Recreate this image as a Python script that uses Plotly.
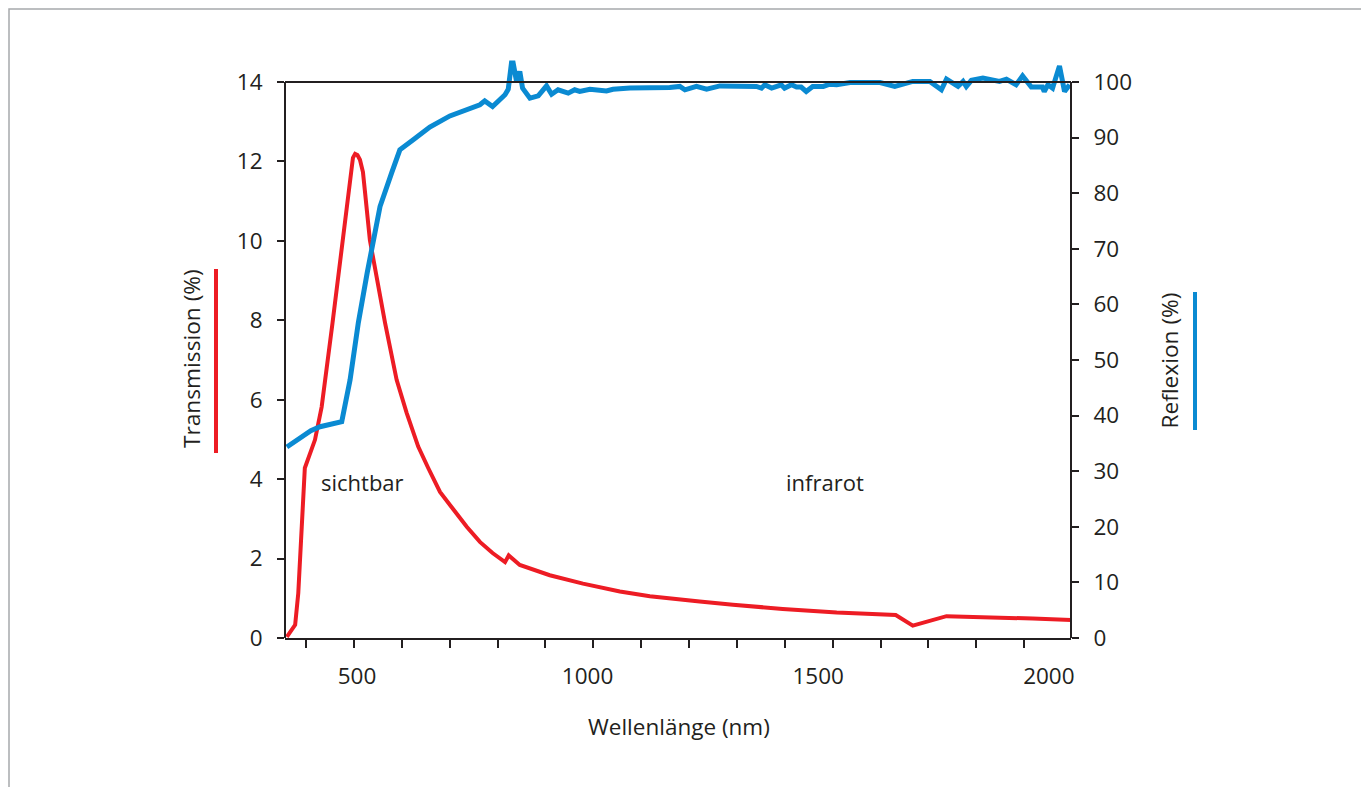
import plotly.graph_objects as go

# Transmission (%) - left axis
trans_nm = [348, 366, 372.8, 380.2, 387, 409, 423.5, 447, 469, 485, 491.3, 496, 501, 506.5, 513, 517, 528, 561,
            586, 607.7, 632.8, 654.5, 680, 705, 738, 766.5, 794, 821, 829, 853, 918, 990, 1030, 1070, 1135,
            1193, 1243, 1315, 1423, 1540, 1668, 1705, 1778, 1965, 2049]
trans_val = [0.03, 0.33, 1.13, 2.72, 4.28, 4.99, 5.82, 7.93, 10.02, 11.66, 12.09, 12.19, 12.16, 12.04, 11.73, 11.28,
             10.02, 7.93, 6.50, 5.67, 4.82, 4.28, 3.68, 3.30, 2.80, 2.42, 2.14, 1.91, 2.08, 1.84, 1.58, 1.37, 1.27,
             1.17, 1.05, 0.97, 0.92, 0.84, 0.73, 0.64, 0.58, 0.31, 0.55, 0.49, 0.45]

# Reflexion (%) - right axis
refl_nm = [348, 383, 400, 420, 445, 467, 485, 503, 522, 535, 550, 575, 593, 622, 658, 701.5, 745, 766.5, 777, 794,
           821, 828, 835, 838.6, 846, 853, 859, 875, 893, 911, 922, 936, 958, 972, 983, 1005, 1041, 1055, 1092,
           1128, 1178, 1200, 1211, 1236, 1258, 1287, 1366, 1377, 1384, 1399, 1420, 1427, 1442, 1453, 1463, 1474,
           1488, 1511, 1525, 1540, 1569, 1634, 1666, 1705, 1742, 1767, 1778, 1803, 1814, 1821, 1832, 1857, 1893,
           1908, 1929, 1943, 1962, 1986, 1990, 1998, 2008, 2023, 2034, 2045]
refl_val = [34.35, 36.5, 37.3, 38.0, 38.5, 38.9, 46.4, 56.7, 65.6, 71.6, 77.6, 83.6, 87.8, 89.6, 91.9, 93.9, 95.3,
            95.9, 96.6, 95.6, 97.7, 98.7, 103.4, 103.4, 100.1, 101.9, 98.9, 97.1, 97.5, 99.3, 97.8, 98.6, 98.0,
            98.6, 98.3, 98.7, 98.4, 98.7, 98.9, 98.9, 99.0, 99.2, 98.6, 99.2, 98.7, 99.3, 99.2, 98.9, 99.5, 98.9,
            99.5, 98.9, 99.5, 99.1, 99.1, 98.3, 99.2, 99.2, 99.6, 99.5, 99.9, 99.9, 99.2, 100.1, 100.1, 98.6,
            100.5, 99.2, 100.1, 99.2, 100.3, 100.7, 100.1, 100.5, 99.5, 101.1, 99.1, 99.1, 98.3, 99.5, 98.9,
            102.9, 98.3, 99.5]

x_ticks = [500, 1000, 1500, 2000]
y_left_ticks = [0, 2, 4, 6, 8, 10, 12, 14]
y_right_ticks = [0, 10, 20, 30, 40, 50, 60, 70, 80, 90, 100]

RED = "#ed1c24"
BLUE = "#0a8ad2"
INK = "#231f20"
FONT = "Open Sans"

# plot area: 584 px tall, the axis frame (0..14) uses the lower 556 px,
# leaving headroom so the reflexion spikes above 100 % are not clipped
PLOT_H = 584.0
HEAD = PLOT_H / 556.0

fig = go.Figure()
fig.add_trace(go.Scatter(x=trans_nm, y=trans_val, mode="lines", line=dict(color=RED, width=4),
                         yaxis="y", showlegend=False))
fig.add_trace(go.Scatter(x=refl_nm, y=refl_val, mode="lines", line=dict(color=BLUE, width=5),
                         yaxis="y2", showlegend=False))

fig.update_layout(
    width=1361, height=779,
    margin=dict(l=277, r=298, t=46, b=149, pad=0),
    paper_bgcolor="white", plot_bgcolor="white",
    font=dict(family=FONT, size=22.5, color=INK),
    xaxis=dict(range=[344, 2048], tickmode="array", tickvals=x_ticks, ticks="",
               showline=True, linecolor=INK, linewidth=2, mirror=False, showgrid=False, zeroline=False,
               ticklabelstandoff=17,
               minor=dict(ticks="outside", ticklen=8, tickwidth=2, tickcolor=INK,
                          tickmode="linear", tick0=389.5, dtick=103.8, showgrid=False)),
    yaxis=dict(range=[0, 14 * HEAD], tickmode="array", tickvals=y_left_ticks, ticks="outside", ticklen=7,
               tickwidth=2, tickcolor=INK, showline=False,
               showgrid=False, zeroline=False, ticklabelstandoff=10),
    yaxis2=dict(range=[0, 100 * HEAD], tickmode="array", tickvals=y_right_ticks, ticks="outside", ticklen=7,
                tickwidth=2, tickcolor=INK, showline=False,
                overlaying="y", side="right", anchor="x", showgrid=False, zeroline=False,
                ticklabelstandoff=10),
)

# axis frame lines ending at the top tick (14 / 100)
fig.add_shape(type="line", xref="paper", yref="y", x0=0, x1=0, y0=0, y1=14, line=dict(color=INK, width=2))
fig.add_shape(type="line", xref="paper", yref="y", x0=1, x1=1, y0=0, y1=14, line=dict(color=INK, width=2))
fig.add_shape(type="line", xref="paper", yref="y", x0=0, x1=1, y0=14, y1=14, line=dict(color=INK, width=2))


# helpers: page pixel -> paper fraction (plot area spans page x 285..1071, bottom at page y 638)
def px_x(p):
    return (p - 285) / 786.0


def px_y(p):
    return (638 - p) / PLOT_H


annotations = [
    dict(text="Transmission (%)", x=px_x(191), y=px_y(359), textangle=-90, size=22.7),
    dict(text="Reflexion (%)", x=px_x(1169.5), y=px_y(361), textangle=-90, size=22.7),
    dict(text="Wellenlänge (nm)", x=px_x(679), y=px_y(726), textangle=0, size=22.5),
    dict(text="sichtbar", x=px_x(362.7), y=px_y(481.5), textangle=0, size=22),
    dict(text="infrarot", x=px_x(825), y=px_y(481.5), textangle=0, size=22),
]
for a in annotations:
    fig.add_annotation(text=a["text"], x=a["x"], y=a["y"], xref="paper", yref="paper",
                       xanchor="center", yanchor="middle", showarrow=False, textangle=a["textangle"],
                       font=dict(family=FONT, size=a["size"], color=INK))

# colour key bars beside the axis titles
fig.add_shape(type="line", xref="paper", yref="paper", x0=px_x(216), x1=px_x(216),
              y0=px_y(269), y1=px_y(453), line=dict(color=RED, width=4))
fig.add_shape(type="line", xref="paper", yref="paper", x0=px_x(1195), x1=px_x(1195),
              y0=px_y(292), y1=px_y(430), line=dict(color=BLUE, width=4))
# outer frame
fig.add_shape(type="rect", xref="paper", yref="paper", x0=px_x(9), x1=px_x(1364),
              y0=px_y(800), y1=px_y(9), line=dict(color="#a7a9ac", width=1.5), layer="below")

fig.write_html("out.html")
